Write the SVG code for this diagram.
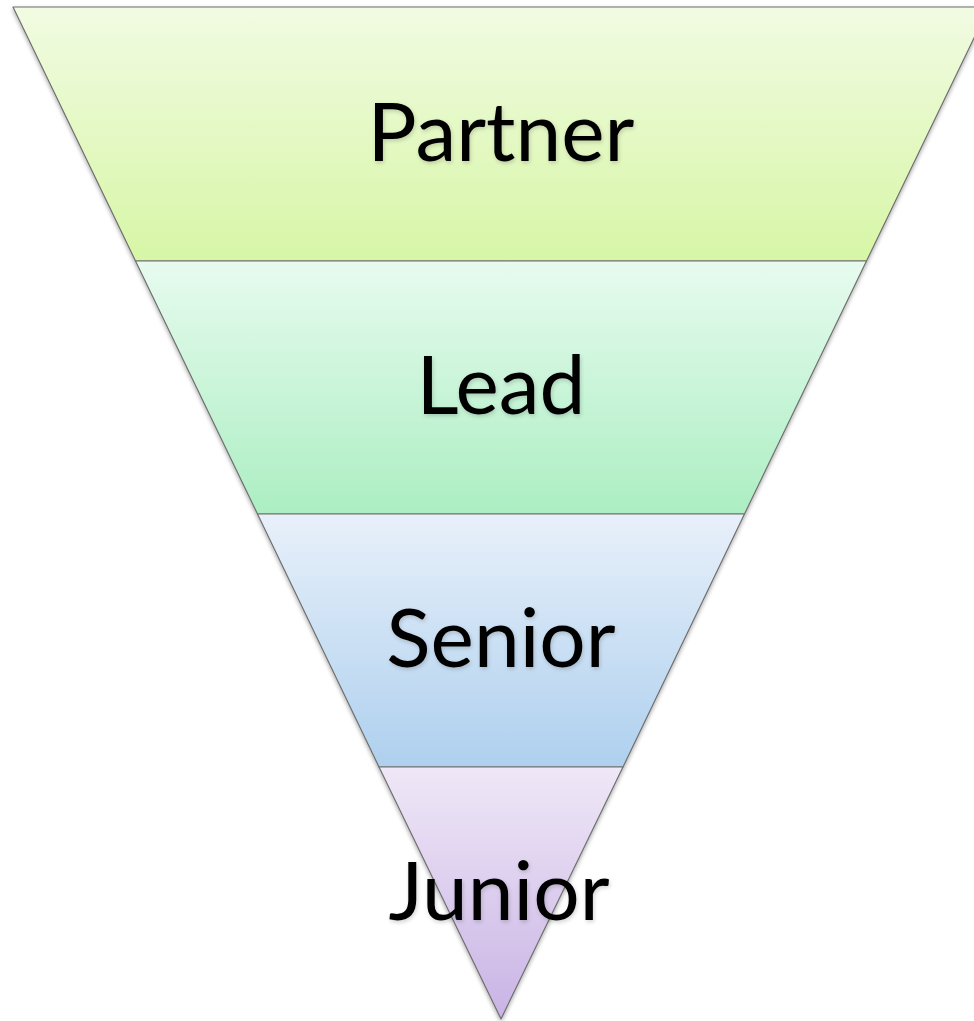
<svg xmlns="http://www.w3.org/2000/svg" width="974" height="1021" viewBox="0 0 974 1021">
  <defs>
    <linearGradient id="g1" x1="0" y1="0" x2="0" y2="1">
      <stop offset="0" stop-color="#f1fbe2"/>
      <stop offset="1" stop-color="#d7f6a6"/>
    </linearGradient>
    <linearGradient id="g2" x1="0" y1="0" x2="0" y2="1">
      <stop offset="0" stop-color="#e7fbef"/>
      <stop offset="1" stop-color="#aceec2"/>
    </linearGradient>
    <linearGradient id="g3" x1="0" y1="0" x2="0" y2="1">
      <stop offset="0" stop-color="#e8f0fa"/>
      <stop offset="1" stop-color="#aed0ee"/>
    </linearGradient>
    <linearGradient id="g4" x1="0" y1="0" x2="0" y2="1">
      <stop offset="0" stop-color="#efe8f7"/>
      <stop offset="1" stop-color="#c9b3e5"/>
    </linearGradient>
    <filter id="sh" x="-5%" y="-5%" width="110%" height="110%">
      <feGaussianBlur in="SourceAlpha" stdDeviation="2"/>
      <feOffset dx="0" dy="2" result="b"/>
      <feComponentTransfer><feFuncA type="linear" slope="0.35"/></feComponentTransfer>
      <feMerge><feMergeNode/><feMergeNode in="SourceGraphic"/></feMerge>
    </filter>
    <filter id="tsh" x="-10%" y="-10%" width="120%" height="130%">
      <feGaussianBlur in="SourceAlpha" stdDeviation="2"/>
      <feOffset dx="1" dy="2"/>
      <feComponentTransfer><feFuncA type="linear" slope="0.18"/></feComponentTransfer>
      <feMerge><feMergeNode/><feMergeNode in="SourceGraphic"/></feMerge>
    </filter>
  </defs>
  <style>
    .band { stroke: #6f6f6f; stroke-width: 1.2; stroke-linejoin: round; }
    .lbl { font-family: Lato, "Open Sans", sans-serif; font-size: 82px; fill: #000; text-anchor: middle; filter: url(#tsh); }
  </style>
  <rect width="974" height="1021" fill="#ffffff"/>
  <g id="shapes" filter="url(#sh)">
    <g id="partner">
      <polygon class="band" fill="url(#g1)" points="13,7 989,7 866.5,261 135.5,261"/>
    </g>
    <g id="lead">
      <polygon class="band" fill="url(#g2)" points="135.5,261 866.5,261 744.5,514 257.5,514"/>
    </g>
    <g id="senior">
      <polygon class="band" fill="url(#g3)" points="257.5,514 744.5,514 623,767 379,767"/>
    </g>
    <g id="junior">
      <polygon class="band" fill="url(#g4)" points="379,767 623,767 501,1019"/>
    </g>
  </g>
  <g id="labels">
    <text class="lbl" x="501" y="161">Partner</text>
    <text class="lbl" x="501" y="414">Lead</text>
    <text class="lbl" x="501" y="667">Senior</text>
    <text class="lbl" x="499" y="920">Junior</text>
  </g>
</svg>
